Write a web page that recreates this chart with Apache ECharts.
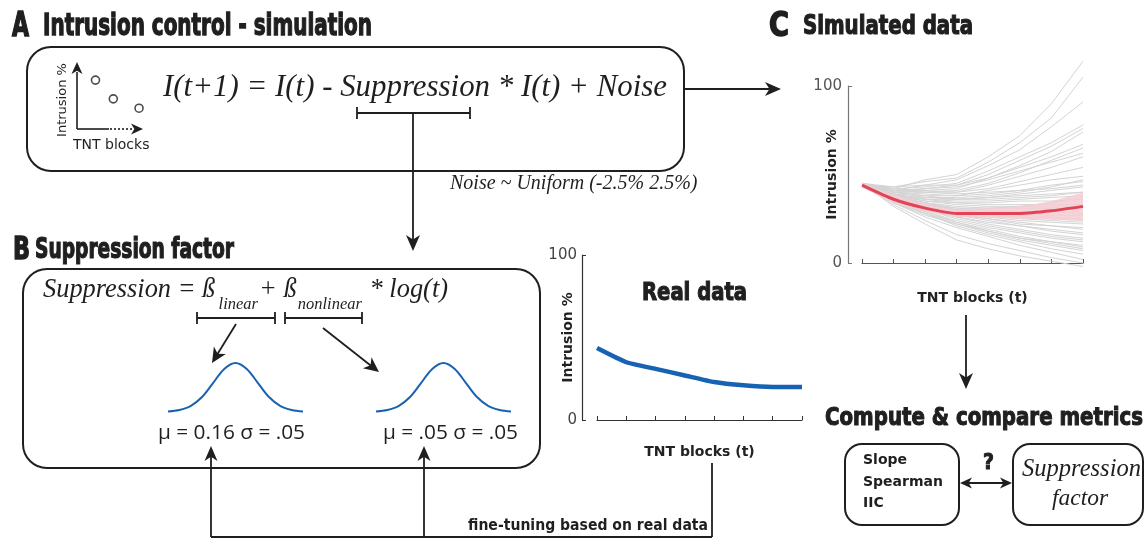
<!DOCTYPE html>
<html>
<head>
<meta charset="utf-8">
<title>Intrusion control - simulation</title>
<script src="https://cdn.jsdelivr.net/npm/echarts@6/dist/echarts.min.js"></script>
<style>
  html, body { margin: 0; padding: 0; background: #fff; }
  #main { width: 1148px; height: 539px; }
</style>
</head>
<body>
<div id="main"></div>
<script>
// ---- data ----
const blocks = ['1', '2', '3', '4', '5', '6', '7', '8'];

// B: real data (intrusion % per TNT block)
const realData = [43.6, 35, 31, 27, 23, 21, 20, 20];

// C: simulated mean and its band
const simMean  = [44, 36, 31, 28, 28, 28, 29.5, 32];
const simUpper = [45.5, 38.5, 33.5, 30.5, 31, 32, 35, 40];
const simLower = [42.5, 34, 29, 26, 25.5, 25, 24.5, 24];

// C: individual simulated participants (grey lines)
const simRuns = [
  [45, 42, 47, 50, 60, 72, 90, 114],
  [44, 43, 46, 48, 57, 68, 82, 105],
  [45, 41, 44, 47, 55, 64, 77, 91],
  [44, 42, 43, 45, 52, 60, 68, 78],
  [45, 40, 42, 44, 50, 58, 66, 76],
  [44, 41, 41, 42, 48, 55, 63, 74],
  [45, 43, 44, 44, 48, 54, 60, 67],
  [44, 40, 40, 41, 45, 51, 58, 65],
  [45, 42, 41, 40, 44, 49, 54, 60],
  [44, 41, 42, 43, 47, 52, 57, 62],
  [44, 41, 40, 40, 42, 46, 50, 54],
  [45, 40, 39, 38, 41, 44, 47, 49],
  [44, 38, 37, 37, 38, 40, 43, 47],
  [44, 39, 38, 38, 39, 41, 44, 46],
  [45, 41, 40, 39, 40, 41, 42, 44],
  [44, 38, 36, 36, 37, 39, 41, 43],
  [45, 40, 37, 36, 37, 38, 39, 40],
  [45, 40, 38, 36, 36, 37, 38, 40],
  [44, 39, 36, 35, 35, 36, 37, 38],
  [44, 37, 33, 31, 31, 32, 34, 37],
  [45, 38, 35, 34, 34, 35, 35, 36],
  [44, 39, 36, 34, 33, 33, 33, 33],
  [45, 39, 35, 33, 32, 32, 32, 32],
  [45, 37, 34, 32, 31, 31, 31, 31],
  [44, 38, 34, 31, 30, 29, 29, 28],
  [44, 37, 33, 30, 29, 28, 27, 27],
  [45, 36, 33, 30, 28, 27, 26, 25],
  [44, 37, 32, 29, 27, 26, 25, 24],
  [45, 38, 34, 30, 27, 25, 24, 23],
  [45, 36, 31, 28, 26, 24, 23, 22],
  [44, 37, 32, 28, 25, 23, 21, 20],
  [45, 36, 31, 27, 25, 22, 21, 19],
  [45, 35, 30, 26, 23, 21, 19, 17],
  [44, 36, 31, 27, 24, 21, 18, 16],
  [44, 36, 30, 26, 22, 19, 16, 14],
  [44, 35, 30, 25, 21, 18, 15, 13],
  [45, 35, 29, 24, 20, 17, 14, 12],
  [45, 34, 28, 22, 18, 14, 12, 10],
  [44, 36, 29, 23, 19, 15, 12, 9],
  [45, 36, 28, 23, 18, 14, 11, 8],
  [45, 34, 27, 22, 17, 13, 10, 7],
  [44, 35, 28, 21, 16, 12, 8, 5],
  [45, 34, 26, 20, 15, 10, 6, 2],
  [44, 33, 24, 16, 11, 7, 3, 0],
  [45, 32, 22, 13, 8, 4, 1, -2]
];

// B: prior distributions drawn as bells
const bellX = ['0', '1', '2', '3', '4', '5', '6', '7', '8', '9', '10', '11', '12'];
const bellLinear    = [0.01, 0.04, 0.12, 0.3, 0.59, 0.88, 1, 0.88, 0.59, 0.3, 0.12, 0.04, 0.01];
const bellNonlinear = [0.01, 0.04, 0.12, 0.3, 0.59, 0.88, 1, 0.88, 0.59, 0.3, 0.12, 0.04, 0.01];

// A: sketch of decreasing intrusions
const miniPoints = [[2.8, 7.3], [5.5, 4.5], [9.4, 3.1]];

// ---- helpers ----
const INK = '#1f1f1f';
const BLUE = '#1762b2';
const HEAVY = 'bold 28px "DejaVu Sans Condensed", "Liberation Sans Narrow", "DejaVu Sans", sans-serif';
const SERIF_I = 'italic 31px "Liberation Serif", "DejaVu Serif", serif';
const SANS = '"DejaVu Sans", sans-serif';

const ctx = document.createElement('canvas').getContext('2d');
function measure(str, font) {
  ctx.font = font;
  return ctx.measureText(str);
}

// text squeezed to a target width (and optional cap height)
function fitText(str, x, yc, font, w, capH, extra) {
  const m = measure(str, font);
  const sx = w / m.width;
  let sy = sx;
  if (capH) {
    const h = measure('H', font);
    sy = capH / (h.actualBoundingBoxAscent || 20);
  }
  return Object.assign({
    type: 'text', x: x, y: yc, scaleX: sx, scaleY: sy, z: 20,
    style: { text: str, font: font, fill: INK, align: 'left', verticalAlign: 'middle',
             textAlign: 'left', textVerticalAlign: 'middle' }
  }, extra || {});
}

function heading(str, x, yc, w, capH) {
  const el = fitText(str, x, yc, HEAVY, w, capH);
  el.style.stroke = INK;
  el.style.lineWidth = 1.2;
  return el;
}

function plainText(str, x, yc, font, align, extra) {
  return Object.assign({
    type: 'text', x: x, y: yc, z: 20,
    style: { text: str, font: font, fill: INK, align: align || 'left', verticalAlign: 'middle',
             textAlign: align || 'left', textVerticalAlign: 'middle' }
  }, extra || {});
}

function seg(x1, y1, x2, y2, w, dash) {
  return { type: 'line', z: 15, shape: { x1, y1, x2, y2 },
           style: { stroke: INK, lineWidth: w || 1.8, lineDash: dash || null } };
}

function head(x2, y2, ang, len, hw) {
  const c = Math.cos(ang), s = Math.sin(ang);
  const bx = x2 - len * c, by = y2 - len * s;
  const nx = -s * hw, ny = c * hw;
  const ix = x2 - len * 0.72 * c, iy = y2 - len * 0.72 * s;
  return { type: 'polygon', z: 16,
           shape: { points: [[x2, y2], [bx + nx, by + ny], [ix, iy], [bx - nx, by - ny]] },
           style: { fill: INK } };
}

function arrow(x1, y1, x2, y2, len, hw) {
  len = len || 15; hw = hw || 6.5;
  const a = Math.atan2(y2 - y1, x2 - x1);
  return [seg(x1, y1, x2 - len * 0.6 * Math.cos(a), y2 - len * 0.6 * Math.sin(a)), head(x2, y2, a, len, hw)];
}

function bracket(x1, x2, y, t) {
  t = t || 6;
  return [seg(x1, y, x2, y, 1.8), seg(x1, y - t, x1, y + t, 1.8), seg(x2, y - t, x2, y + t, 1.8)];
}

function box(x, y, w, h, r) {
  return { type: 'rect', z: 5, shape: { x, y, width: w, height: h, r: r },
           style: { fill: 'none', stroke: INK, lineWidth: 2 } };
}

// equation of panel B laid out piece by piece, then scaled to its width
function chainText(x0, yc, parts, targetW) {
  let cur = 0;
  const placed = parts.map(p => {
    const m = measure(p.t, p.font);
    const o = { p: p, off: cur + (p.gap || 0) };
    cur = o.off + m.width;
    return o;
  });
  const k = targetW / cur;
  return placed.map(o => ({
    type: 'text', x: x0 + o.off * k, y: yc + (o.p.dy || 0), scaleX: k, scaleY: k, z: 20,
    style: { text: o.p.t, font: o.p.font, fill: INK, align: 'left', verticalAlign: 'middle',
             textAlign: 'left', textVerticalAlign: 'middle' }
  }));
}

// ---- graphic layer (frames, arrows, labels) ----
const EQ_B = 'italic 24px "Liberation Serif", "DejaVu Serif", serif';
const SUB_B = 'italic 15px "Liberation Serif", "DejaVu Serif", serif';

let g = [];
// headings
g.push(heading('A', 12, 27, 17, 25));
g.push(heading('Intrusion control - simulation', 43, 27, 329, 22));
g.push(heading('C', 769, 27, 20, 25));
g.push(heading('Simulated data', 803, 27, 170, 20));
g.push(heading('B', 13, 251, 17, 24));
g.push(heading('Suppression factor', 35, 251, 199, 21));
g.push(heading('Real data', 642, 294, 105, 18));
g.push(heading('Compute & compare metrics', 825, 418, 318, 19));
g.push(heading('?', 983, 463, 11, 16));

// panel A
g.push(box(27, 47, 657, 124, 24));
g.push(fitText('I(t+1) = I(t) - Suppression * I(t) + Noise', 163, 88, SERIF_I, 504));
g = g.concat(bracket(357, 470, 113));
g = g.concat(arrow(413, 113, 413, 251, 16, 7));
g = g.concat(arrow(685, 89, 781, 89, 16, 7));
g.push(plainText('Noise ~ Uniform (-2.5% 2.5%)', 450, 184, 'italic 20px "Liberation Serif", "DejaVu Serif", serif'));
// mini sketch axes
g.push(seg(77, 129, 77, 72, 1.6));
g.push(head(77, 62, -Math.PI / 2, 12, 5.5));
g.push(seg(77, 129, 109, 129, 1.6));
g.push(seg(110, 129, 133, 129, 1.6, [2, 2]));
g.push(head(143, 129, 0, 12, 5.5));
g.push(plainText('Intrusion %', 63, 100, '13px ' + SANS, 'center', { rotation: Math.PI / 2 }));
g.push(plainText('TNT blocks', 73, 145, '14px ' + SANS));

// panel B
g.push(box(23, 269, 517, 199, 24));
g = g.concat(chainText(43, 290, [
  { t: 'Suppression = ß', font: EQ_B },
  { t: 'linear', font: SUB_B, dy: 15, gap: 3 },
  { t: '+ ß', font: EQ_B, gap: 1 },
  { t: 'nonlinear', font: SUB_B, dy: 15, gap: 1 },
  { t: '* log(t)', font: EQ_B, gap: 7 }
], 405));
g = g.concat(bracket(197, 275, 318));
g = g.concat(bracket(285, 362, 318));
g = g.concat(arrow(236, 324, 212, 363, 15, 7));
g = g.concat(arrow(323, 328, 379, 372, 15, 7));
g.push(fitText('μ = 0.16 σ = .05', 158, 433, '20px "Open Sans", "Noto Sans", sans-serif', 147));
g.push(fitText('μ = .05 σ = .05', 383, 433, '20px "Open Sans", "Noto Sans", sans-serif', 135));
// fine-tuning loop
g = g.concat(arrow(211, 537, 211, 446, 15, 6.5));
g = g.concat(arrow(424, 537, 424, 446, 15, 6.5));
g.push(seg(211, 537, 712, 537, 1.8));
g.push(seg(712, 537, 712, 463, 1.8));
g.push(fitText('fine-tuning based on real data', 468, 526, 'bold 13px "DejaVu Sans Condensed", "DejaVu Sans", sans-serif', 240));

// panel C flow
g = g.concat(arrow(966, 315, 966, 389, 16, 7));
g.push(box(845, 444, 114, 81, 17));
g.push(box(1013, 444, 130, 81, 17));
g.push(plainText('Slope', 863, 460, 'bold 14px ' + SANS));
g.push(plainText('Spearman', 863, 482, 'bold 14px ' + SANS));
g.push(plainText('IIC', 863, 503, 'bold 14px ' + SANS));
g = g.concat(arrow(975, 483, 960, 483, 12, 5.5));
g = g.concat(arrow(997, 483, 1012, 483, 12, 5.5));
g.push(seg(966, 483, 1004, 483, 1.8));
g.push(fitText('Suppression', 1022, 470, 'italic 24px "Liberation Serif", "DejaVu Serif", serif', 119));
g.push(fitText('factor', 1052, 499, 'italic 24px "Liberation Serif", "DejaVu Serif", serif', 56));

// ---- charts ----
const myChart = echarts.init(document.getElementById('main'), null, { renderer: 'canvas' });

function hiddenCat(gridIndex) {
  return { type: 'category', gridIndex, data: bellX, boundaryGap: false, show: false };
}
function hiddenVal(gridIndex, min, max) {
  return { type: 'value', gridIndex, min, max, show: false };
}

const axisNameStyle = { fontFamily: SANS, fontWeight: 'bold', fontSize: 14, color: '#222' };

const option = {
  backgroundColor: '#fff',
  animation: false,
  grid: [
    { left: 77, top: 62, width: 66, height: 67 },      // A mini
    { left: 168, top: 363, width: 135, height: 49 },   // bell linear
    { left: 376, top: 363, width: 135, height: 49 },   // bell nonlinear
    { left: 597, top: 255, width: 205, height: 165 },  // real data
    { left: 862, top: 86, width: 221, height: 177 }    // simulated
  ],
  xAxis: [
    { type: 'value', gridIndex: 0, min: 0, max: 10, show: false },
    hiddenCat(1),
    hiddenCat(2),
    {
      type: 'category', gridIndex: 3, data: blocks, boundaryGap: false, offset: 13,
      name: 'TNT blocks (t)', nameLocation: 'middle', nameGap: 12, nameMoveOverlap: false,
      nameTextStyle: axisNameStyle,
      axisLine: { lineStyle: { color: '#333', width: 1.2 } },
      axisTick: { inside: true, length: 4, interval: 0, lineStyle: { color: '#333' } },
      axisLabel: { show: false }, splitLine: { show: false }
    },
    {
      type: 'category', gridIndex: 4, data: blocks, boundaryGap: false, offset: 13,
      name: 'TNT blocks (t)', nameLocation: 'middle', nameGap: 15, nameMoveOverlap: false,
      nameTextStyle: axisNameStyle,
      axisLine: { lineStyle: { color: '#555', width: 1.2 } },
      axisTick: { inside: true, length: 4, interval: 0, lineStyle: { color: '#555' } },
      axisLabel: { show: false }, splitLine: { show: false }
    }
  ],
  yAxis: [
    { type: 'value', gridIndex: 0, min: 0, max: 10, show: false },
    hiddenVal(1, 0, 1),
    hiddenVal(2, 0, 1),
    {
      type: 'value', gridIndex: 3, min: 0, max: 100, interval: 100, offset: 15,
      name: 'Intrusion %', nameLocation: 'middle', nameGap: 7, nameRotate: 90, nameMoveOverlap: false,
      nameTextStyle: axisNameStyle,
      axisLine: { show: true, lineStyle: { color: '#333', width: 1.2 } },
      axisTick: { show: true, inside: true, length: 4, lineStyle: { color: '#333' } },
      axisLabel: { margin: 5, fontFamily: SANS, fontSize: 15, color: '#444' },
      splitLine: { show: false }
    },
    {
      type: 'value', gridIndex: 4, min: 0, max: 100, interval: 100, offset: 14,
      name: 'Intrusion %', nameLocation: 'middle', nameGap: 9, nameRotate: 90, nameMoveOverlap: false,
      nameTextStyle: axisNameStyle,
      axisLine: { show: true, lineStyle: { color: '#777', width: 1.2 } },
      axisTick: { show: true, inside: true, length: 4, lineStyle: { color: '#777' } },
      axisLabel: { margin: 6, fontFamily: SANS, fontSize: 15, color: '#555' },
      splitLine: { show: false }
    }
  ],
  series: []
};

// A sketch points
option.series.push({
  type: 'scatter', xAxisIndex: 0, yAxisIndex: 0, data: miniPoints, symbol: 'circle', symbolSize: 8,
  itemStyle: { color: '#fff', borderColor: INK, borderWidth: 1.6 }, silent: true
});

// B bells
[[bellLinear, 1], [bellNonlinear, 2]].forEach(([d, i]) => {
  option.series.push({
    type: 'line', xAxisIndex: i, yAxisIndex: i, data: d, smooth: 0.35, symbol: 'none',
    lineStyle: { color: BLUE, width: 2 }, silent: true
  });
});

// B real data
option.series.push({
  type: 'line', xAxisIndex: 3, yAxisIndex: 3, data: realData, symbol: 'none', smooth: 0.15,
  lineStyle: { color: BLUE, width: 4.5 }, silent: true
});

// C grey runs
simRuns.forEach(run => {
  option.series.push({
    type: 'line', xAxisIndex: 4, yAxisIndex: 4, data: run, symbol: 'none', clip: false,
    lineStyle: { color: '#d4d4d4', width: 1 }, z: 1, silent: true
  });
});

// C band and mean
option.series.push({
  type: 'line', xAxisIndex: 4, yAxisIndex: 4, data: simLower, stack: 'band', symbol: 'none',
  lineStyle: { opacity: 0 }, areaStyle: { opacity: 0 }, z: 2, silent: true
});
option.series.push({
  type: 'line', xAxisIndex: 4, yAxisIndex: 4, data: simUpper.map((u, i) => u - simLower[i]),
  stack: 'band', symbol: 'none', smooth: 0.2,
  lineStyle: { opacity: 0 }, areaStyle: { color: '#f4cdd2', opacity: 0.85 }, z: 2, silent: true
});
option.series.push({
  type: 'line', xAxisIndex: 4, yAxisIndex: 4, data: simMean, symbol: 'none', smooth: 0.2,
  lineStyle: { color: '#e04456', width: 3 }, z: 3, silent: true
});

option.graphic = { elements: g };

myChart.setOption(option);
window.onresize = function () {
  myChart.resize();
};
</script>
</body>
</html>
